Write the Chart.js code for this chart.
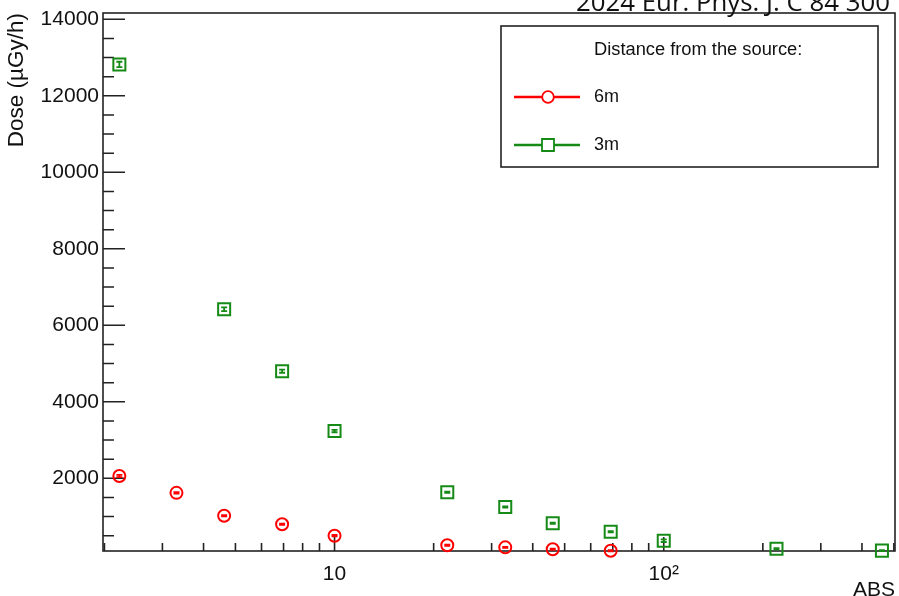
<!DOCTYPE html>
<html>
<head>
<meta charset="utf-8">
<script src="https://cdn.jsdelivr.net/npm/chart.js@4.4.1/dist/chart.umd.min.js"></script>
<style>
  html, body { margin: 0; padding: 0; background: #fff; }
  canvas { display: block; }
</style>
</head>
<body>
<canvas id="chart" width="899" height="596"></canvas>
<script>
// ABS (x) vs dose in µGy/h (y), one set per distance from the source
const absRed = [2.22, 3.31, 4.62, 6.93, 10, 22, 33, 46, 69];
const doseRed = [2060, 1620, 1020, 800, 500, 250, 195, 145, 105];
const errRed = [30, 20, 15, 15, 20, 15, 15, 15, 15];

const absGreen = [2.22, 4.62, 6.93, 10, 22, 33, 46, 69, 100, 220, 460];
const doseGreen = [12820, 6420, 4800, 3235, 1635, 1250, 825, 605, 370, 160, 110];
const errGreen = [70, 50, 40, 30, 15, 15, 15, 15, 35, 15, 15];

const seriesLabels = ['6m', '3m'];
const legendTitle = 'Distance from the source:';
const sourceNote = '2024 Eur. Phys. J. C 84 300';

const yLabelTicks = [2000, 4000, 6000, 8000, 10000, 12000, 14000];
const yMinorStep = 500;
const xLabelTicks = { 10: '10', 100: '10²' };
const xMinorTicks = [2, 3, 4, 5, 6, 7, 8, 9, 20, 30, 40, 50, 60, 70, 80, 90, 200, 300, 400, 500];

const RED = '#ff0000';
const GREEN = '#168a16';
const FONT = '"Liberation Sans", Arial, sans-serif';

function toPoints(xs, ys) {
  return xs.map((x, i) => ({ x: x, y: ys[i] }));
}

// ROOT style frame with inward ticks
const framePlugin = {
  id: 'frame',
  beforeDatasetsDraw(chart) {
    const { ctx, chartArea: a } = chart;
    const xs = chart.scales.x, ys = chart.scales.y;
    ctx.save();
    ctx.strokeStyle = '#222';
    ctx.lineWidth = 1.6;
    ctx.strokeRect(a.left, a.top, a.right - a.left, a.bottom - a.top);
    ctx.beginPath();
    ys.ticks.forEach(t => {
      const py = ys.getPixelForValue(t.value);
      const len = yLabelTicks.includes(t.value) ? 22 : 11;
      ctx.moveTo(a.left, py);
      ctx.lineTo(a.left + len, py);
    });
    xs.ticks.forEach(t => {
      const px = xs.getPixelForValue(t.value);
      const len = xLabelTicks[t.value] ? 14 : 8;
      ctx.moveTo(px, a.bottom);
      ctx.lineTo(px, a.bottom - len);
    });
    ctx.stroke();
    ctx.restore();
  }
};

const errorPlugin = {
  id: 'errors',
  afterDatasetsDraw(chart) {
    const { ctx } = chart;
    const xs = chart.scales.x, ys = chart.scales.y;
    ctx.save();
    chart.data.datasets.forEach(ds => {
      ctx.strokeStyle = ds.borderColor;
      ctx.lineWidth = 1.8;
      ctx.beginPath();
      ds.data.forEach((p, i) => {
        const px = xs.getPixelForValue(p.x);
        const y1 = ys.getPixelForValue(p.y - ds.errors[i]);
        const y2 = ys.getPixelForValue(p.y + ds.errors[i]);
        ctx.moveTo(px, y1); ctx.lineTo(px, y2);
        ctx.moveTo(px - 3, y1); ctx.lineTo(px + 3, y1);
        ctx.moveTo(px - 3, y2); ctx.lineTo(px + 3, y2);
      });
      ctx.stroke();
    });
    ctx.restore();
  }
};

const legendPlugin = {
  id: 'rootLegend',
  afterDraw(chart) {
    const { ctx } = chart;
    ctx.save();
    ctx.fillStyle = '#fff';
    ctx.fillRect(501, 26, 377, 141);
    ctx.strokeStyle = '#222';
    ctx.lineWidth = 1.6;
    ctx.strokeRect(501, 26, 377, 141);

    ctx.fillStyle = '#111';
    ctx.textBaseline = 'middle';
    ctx.font = '18.3px ' + FONT;
    ctx.fillText(legendTitle, 594, 50);

    const rows = [97, 145];
    chart.data.datasets.forEach((ds, i) => {
      const y = rows[i];
      ctx.strokeStyle = ds.borderColor;
      ctx.lineWidth = 2.4;
      ctx.beginPath();
      ctx.moveTo(514, y); ctx.lineTo(580, y);
      ctx.stroke();
      ctx.lineWidth = 1.8;
      ctx.fillStyle = '#fff';
      ctx.beginPath();
      if (ds.pointStyle === 'circle') {
        ctx.arc(548, y, 5.8, 0, Math.PI * 2);
      } else {
        ctx.rect(542, y - 6, 12, 12);
      }
      ctx.fill();
      ctx.stroke();
      ctx.fillStyle = '#111';
      ctx.font = '18px ' + FONT;
      ctx.fillText(ds.label, 594, y);
    });

    // reference note at the top right, partly cut off
    ctx.font = '26px "Open Sans", sans-serif';
    const w = ctx.measureText(sourceNote).width;
    ctx.font = (26 * 314 / w).toFixed(2) + 'px "Open Sans", sans-serif';
    ctx.textBaseline = 'alphabetic';
    ctx.fillStyle = '#111';
    ctx.fillText(sourceNote, 576, 11);
    ctx.restore();
  }
};

new Chart(document.getElementById('chart').getContext('2d'), {
  type: 'scatter',
  data: {
    datasets: [
      {
        label: seriesLabels[0],
        data: toPoints(absRed, doseRed),
        errors: errRed,
        borderColor: RED,
        backgroundColor: 'rgba(0,0,0,0)',
        pointStyle: 'circle',
        pointRadius: 6,
        pointBorderWidth: 2,
        clip: false
      },
      {
        label: seriesLabels[1],
        data: toPoints(absGreen, doseGreen),
        errors: errGreen,
        borderColor: GREEN,
        backgroundColor: 'rgba(0,0,0,0)',
        pointStyle: 'rect',
        pointRadius: 8.5,
        pointBorderWidth: 2,
        clip: false
      }
    ]
  },
  options: {
    responsive: false,
    animation: false,
    devicePixelRatio: 1,
    layout: { autoPadding: false, padding: { top: 13, right: 4, left: 0, bottom: 0 } },
    plugins: {
      legend: { display: false },
      tooltip: { enabled: false }
    },
    scales: {
      x: {
        type: 'logarithmic',
        min: 1.98,
        max: 504,
        grid: { display: false, drawTicks: false },
        border: { display: false },
        afterBuildTicks: scale => {
          const vals = xMinorTicks.concat([10, 100]).sort((a, b) => a - b);
          scale.ticks = vals.map(v => ({ value: v, major: !!xLabelTicks[v] }));
        },
        afterFit: scale => {
          scale.height = 45;
          scale.paddingLeft = 0;
          scale.paddingRight = 0;
        },
        ticks: {
          autoSkip: false,
          maxRotation: 0,
          padding: 0,
          color: '#111',
          // tall line box pushes the labels down from the axis
          font: { family: FONT, size: 21, lineHeight: 2.25 },
          callback: v => xLabelTicks[v] || ''
        },
        title: {
          display: true,
          text: 'ABS',
          align: 'end',
          color: '#111',
          padding: 0,
          font: { family: FONT, size: 21, lineHeight: 0.55 }
        }
      },
      y: {
        min: 100,
        max: 14165,
        grid: { display: false, drawTicks: false },
        border: { display: false },
        afterBuildTicks: scale => {
          const vals = [];
          for (let v = yMinorStep; v <= scale.max; v += yMinorStep) vals.push({ value: v });
          scale.ticks = vals;
        },
        afterFit: scale => {
          scale.width = 103;
          scale.paddingTop = 0;
          scale.paddingBottom = 0;
        },
        ticks: {
          autoSkip: false,
          padding: 4,
          color: '#111',
          font: { family: FONT, size: 21 },
          callback: v => (yLabelTicks.includes(v) ? String(v) : '')
        },
        title: {
          display: true,
          text: 'Dose (µGy/h)',
          align: 'end',
          color: '#111',
          padding: { top: 3 },
          font: { family: FONT, size: 22.5 }
        }
      }
    }
  },
  plugins: [framePlugin, errorPlugin, legendPlugin]
});
</script>
</body>
</html>
